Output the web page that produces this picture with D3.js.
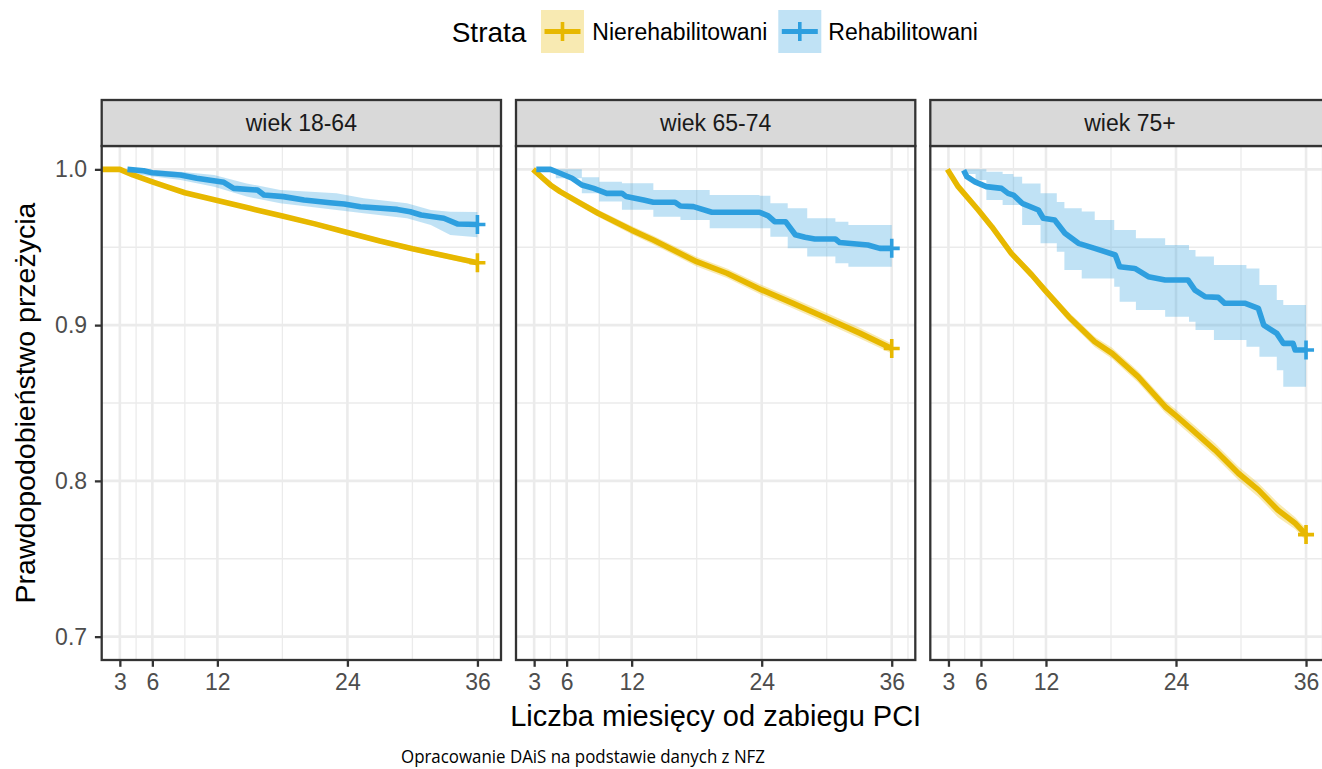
<!DOCTYPE html>
<html><head><meta charset="utf-8">
<script src="https://cdn.jsdelivr.net/npm/d3@7"></script>
<style>
html,body{margin:0;padding:0;background:#fff;overflow:hidden}
svg{display:block;font-family:"Liberation Sans",Arial,Helvetica,sans-serif}
</style>
</head><body>
<svg id="c" width="1322" height="769"></svg>
<script>
// ---------------- DATA ----------------
const panels = ["wiek 18-64", "wiek 65-74", "wiek 75+"];
const strata = ["Nierehabilitowani", "Rehabilitowani"];
const monthTicks = [3, 6, 12, 24, 36];
const monthMinor = [4.5, 9, 18, 30, 37.5];
const survTicks = [0.7, 0.8, 0.9, 1.0];
const survMinor = [0.75, 0.85, 0.95];
const legendTitle = "Strata";
const xTitle = "Liczba miesięcy od zabiegu PCI";
const yTitle = "Prawdopodobieństwo przeżycia";
const caption = "Opracowanie DAiS na podstawie danych z NFZ";

// [month, survival]
const nie1864 = [[0,1],[3,1],[4.2,0.9964],[6,0.992],[7.3,0.9889],[9,0.985],[12,0.980],[15,0.975],[18,0.970],[21,0.965],[24,0.9595],[27,0.954],[30,0.949],[33,0.9445],[36,0.940]];
// [month, lower, upper]
const nie1864CI = [[0,1,1],[3,0.9995,1],[4.2,0.9953,0.9975],[6,0.9908,0.9932],[7.3,0.9876,0.9902],[9,0.9837,0.9863],[12,0.9787,0.9813],[15,0.9736,0.9764],[18,0.9686,0.9714],[21,0.9635,0.9665],[24,0.9580,0.9610],[27,0.9524,0.9556],[30,0.9474,0.9506],[33,0.9428,0.9462],[36,0.9383,0.9417]];

const reh1864 = [[3.7,1.0],[5.2,0.9991],[6.0,0.9978],[8.6,0.9964],[10.1,0.9943],[12.6,0.9917],[13.5,0.9878],[15.7,0.9867],[16.3,0.9835],[18.1,0.9825],[20.0,0.9803],[22.4,0.9786],[23.7,0.9778],[25.2,0.976],[28.6,0.9743],[29.8,0.9728],[30.8,0.9707],[32.9,0.9686],[34.2,0.9649],[36,0.9646]];
const reh1864CI = [[3.7,0.999,1.0],[5,0.9964,1.0],[8.6,0.9932,0.9985],[11.7,0.9889,0.9964],[14.7,0.9825,0.991],[17.8,0.9782,0.9867],[23,0.9739,0.9846],[25.5,0.9718,0.9814],[29.5,0.9686,0.9782],[31.7,0.9643,0.9739],[33.5,0.9579,0.9728],[36,0.9564,0.9727]];

const nie6574 = [[2.9,1.0],[3.8,0.9943],[4.5,0.990],[5.4,0.9857],[7,0.9793],[8.9,0.9718],[12,0.961],[14,0.9546],[18,0.9407],[20.8,0.9333],[24,0.9226],[26.9,0.914],[30,0.9044],[33.1,0.8947],[36,0.885]];
const nie6574CI = [[2.9,0.9995,1.0],[3.8,0.9928,0.9958],[4.5,0.9883,0.9917],[5.4,0.9838,0.9876],[7,0.9772,0.9814],[8.9,0.9695,0.9741],[12,0.9584,0.9636],[14,0.9518,0.9574],[18,0.9377,0.9437],[20.8,0.9302,0.9364],[24,0.9194,0.9258],[26.9,0.9107,0.9173],[30,0.9010,0.9078],[33.1,0.8913,0.8981],[36,0.8818,0.8882]];

const reh6574 = [[3.2,1.0],[4.5,1.0],[5.4,0.9975],[6.5,0.9943],[7.4,0.990],[8.5,0.9878],[9.7,0.9846],[11.1,0.9846],[11.5,0.9825],[13.1,0.9803],[14.0,0.9789],[16.0,0.9789],[16.5,0.9765],[17.7,0.9761],[19.4,0.9725],[23.8,0.9725],[24.6,0.9701],[25.2,0.9664],[26.2,0.9664],[27.1,0.958],[28.0,0.9564],[28.9,0.9553],[30.8,0.9553],[31.2,0.953],[33.8,0.9514],[34.9,0.9493],[36,0.9493]];
const reh6574CI = [[3.2,0.999,1.0],[5,0.9943,1.0],[7.4,0.9846,0.995],[9,0.9793,0.992],[11.1,0.974,0.9911],[14,0.9696,0.9868],[16.5,0.9675,0.9868],[19.2,0.9622,0.9836],[23.8,0.9622,0.983],[24.8,0.9568,0.9782],[26.4,0.9493,0.975],[28.2,0.944,0.9686],[30.8,0.9397,0.9664],[32,0.9375,0.9643],[36,0.9354,0.9636]];

const nie75 = [[2.9,1.0],[3.9,0.9889],[5.75,0.9739],[7.0,0.9632],[8.8,0.9461],[10.7,0.9322],[11.9,0.9225],[14.1,0.9054],[16.5,0.8893],[18.1,0.8819],[20.5,0.8669],[23.0,0.8476],[24.1,0.8412],[25.5,0.8327],[27.6,0.8198],[29.75,0.8049],[31.6,0.7942],[33.4,0.7813],[35.0,0.7728],[36,0.7655]];
const nie75CI = [[2.9,0.9995,1.0],[3.9,0.9875,0.9903],[5.75,0.9722,0.9756],[7.0,0.9612,0.9652],[8.8,0.9438,0.9484],[10.7,0.9297,0.9347],[11.9,0.9198,0.9252],[14.1,0.9024,0.9084],[16.5,0.8860,0.8926],[18.1,0.8784,0.8854],[20.5,0.8632,0.8706],[23.0,0.8437,0.8515],[24.1,0.8372,0.8452],[25.5,0.8286,0.8368],[27.6,0.8155,0.8241],[29.75,0.8005,0.8093],[31.6,0.7897,0.7987],[33.4,0.7767,0.7859],[35.0,0.7689,0.7767],[36,0.7615,0.7695]];

const reh75 = [[4.4,0.9995],[4.7,0.9953],[5.45,0.992],[6.5,0.9889],[7.9,0.9878],[8.5,0.9846],[9.0,0.9835],[9.8,0.9782],[11.3,0.9739],[11.75,0.9686],[12.8,0.9675],[13.75,0.959],[15.0,0.9525],[16.5,0.9493],[18.4,0.945],[18.8,0.9375],[20.2,0.9364],[21.45,0.9311],[23.0,0.929],[25.1,0.929],[25.75,0.9225],[26.7,0.9182],[27.9,0.9178],[28.5,0.914],[30.4,0.914],[31.6,0.9108],[32.1,0.9],[33.3,0.8947],[33.9,0.8883],[34.8,0.8883],[35.0,0.884],[36,0.884]];
const reh75CI = [[4.4,0.997,1.0],[5.5,0.9932,1.0],[6.5,0.9803,0.9985],[8.0,0.9771,0.997],[9.0,0.9771,0.9953],[9.8,0.9643,0.991],[11.5,0.9525,0.9846],[13.0,0.9471,0.979],[13.7,0.9354,0.975],[15.3,0.93,0.9729],[16.5,0.93,0.9675],[18.3,0.9247,0.961],[18.8,0.915,0.961],[20.3,0.9097,0.9557],[23,0.9054,0.9514],[25.2,0.9022,0.9482],[25.8,0.8968,0.944],[27.5,0.8904,0.9386],[30.5,0.8861,0.9364],[31.7,0.8797,0.9257],[33.3,0.8711,0.9161],[33.9,0.8604,0.9129],[36,0.855,0.9129]];

// ---------------- LAYOUT ----------------
const colors = ["#E7B800", "#2E9FDF"];
const panelData = [
  {line:[nie1864, reh1864], ci:[nie1864CI, reh1864CI], step:false},
  {line:[nie6574, reh6574], ci:[nie6574CI, reh6574CI], step:true},
  {line:[nie75, reh75], ci:[nie75CI, reh75CI], step:true}
];
const panelLeft = [101.7, 516, 930.3];
const panelW = 399.3, pTop = 146, pBottom = 660, ph = pBottom - pTop;
const stripTop = 100, stripH = pTop - stripTop;
const dark = "#333333";

const svg = d3.select("#c");
const defs = svg.append("defs");
const x = d3.scaleLinear().domain([1.325, 38.175]).range([0, panelW]);
const y = d3.scaleLinear().domain([0.685, 1.015]).range([ph, 0]);

const lineGen = d3.line().x(d => x(d[0])).y(d => y(d[1]));
const areaGen = d3.area().x(d => x(d[0])).y0(d => y(d[1])).y1(d => y(d[2]));

panelData.forEach((p, i) => {
  const g = svg.append("g").attr("transform", `translate(${panelLeft[i]},${pTop})`);
  const cid = "clip" + i;
  defs.append("clipPath").attr("id", cid).append("rect").attr("width", panelW).attr("height", ph);

  const grid = g.append("g");
  grid.selectAll(".mx").data(monthMinor).join("line")
    .attr("x1", d => x(d)).attr("x2", d => x(d)).attr("y1", 0).attr("y2", ph)
    .attr("stroke", "#EBEBEB").attr("stroke-width", 1.3);
  grid.selectAll(".my").data(survMinor).join("line")
    .attr("y1", d => y(d)).attr("y2", d => y(d)).attr("x1", 0).attr("x2", panelW)
    .attr("stroke", "#EBEBEB").attr("stroke-width", 1.3);
  grid.selectAll(".Mx").data(monthTicks).join("line")
    .attr("x1", d => x(d)).attr("x2", d => x(d)).attr("y1", 0).attr("y2", ph)
    .attr("stroke", "#EBEBEB").attr("stroke-width", 2.6);
  grid.selectAll(".My").data(survTicks).join("line")
    .attr("y1", d => y(d)).attr("y2", d => y(d)).attr("x1", 0).attr("x2", panelW)
    .attr("stroke", "#EBEBEB").attr("stroke-width", 2.6);

  const dg = g.append("g").attr("clip-path", `url(#${cid})`);
  p.ci.forEach((ci, k) => {
    dg.append("path").datum(ci)
      .attr("d", areaGen.curve(k === 1 && p.step ? d3.curveStepAfter : d3.curveLinear))
      .attr("fill", colors[k]).attr("fill-opacity", 0.3);
  });
  p.line.forEach((ln, k) => {
    dg.append("path").datum(ln).attr("d", lineGen)
      .attr("fill", "none").attr("stroke", colors[k]).attr("stroke-width", 5.6)
      .attr("stroke-linejoin", "round");
  });
  p.line.forEach((ln, k) => {
    const last = ln[ln.length - 1];
    dg.append("path")
      .attr("transform", `translate(${x(last[0])},${y(last[1])})`)
      .attr("d", "M-8,0H8M0,-9.5V9.5")
      .attr("stroke", colors[k]).attr("stroke-width", 3.6).attr("fill", "none");
  });

  g.append("rect").attr("width", panelW).attr("height", ph)
    .attr("fill", "none").attr("stroke", dark).attr("stroke-width", 2.3);

  const s = svg.append("g").attr("transform", `translate(${panelLeft[i]},${stripTop})`);
  s.append("rect").attr("width", panelW).attr("height", stripH)
    .attr("fill", "#D9D9D9").attr("stroke", dark).attr("stroke-width", 2.3);
  s.append("text").attr("x", panelW / 2).attr("y", stripH / 2 + 8.2)
    .attr("text-anchor", "middle").attr("font-size", 23).attr("fill", "#1A1A1A")
    .text(panels[i]);

  const ax = svg.append("g").attr("transform", `translate(${panelLeft[i]},${pBottom})`)
    .call(d3.axisBottom(x).tickValues(monthTicks).tickSize(6.8).tickPadding(7.2).tickFormat(d3.format("d")));
  ax.select(".domain").remove();
  ax.selectAll(".tick line").attr("stroke", dark).attr("stroke-width", 2.3);
  ax.selectAll(".tick text").attr("font-size", 23).attr("fill", "#4D4D4D")
    .attr("font-family", '"Liberation Sans",Arial,sans-serif');

  if (i === 0) {
    const ay = svg.append("g").attr("transform", `translate(${panelLeft[i]},${pTop})`)
      .call(d3.axisLeft(y).tickValues(survTicks).tickSize(6.8).tickPadding(7.8).tickFormat(d3.format(".1f")));
    ay.select(".domain").remove();
    ay.selectAll(".tick line").attr("stroke", dark).attr("stroke-width", 2.3);
    ay.selectAll(".tick text").attr("font-size", 23).attr("fill", "#4D4D4D")
      .attr("font-family", '"Liberation Sans",Arial,sans-serif');
  }
});

svg.append("text").attr("x", (panelLeft[0] + panelLeft[2] + panelW) / 2).attr("y", 726)
  .attr("text-anchor", "middle").attr("font-size", 29).attr("fill", "#000").text(xTitle);
svg.append("text").attr("transform", `translate(35,${pTop + ph / 2}) rotate(-90)`)
  .attr("text-anchor", "middle").attr("font-size", 28.5).attr("fill", "#000").text(yTitle);

const lg = svg.append("g");
lg.append("text").attr("x", 451.7).attr("y", 41.5).attr("font-size", 28).text(legendTitle);
const keyX = [541, 778.3], labX = [592.3, 828.3];
strata.forEach((st, k) => {
  const kx = keyX[k], ky = 10, ks = 43, cy = ky + ks / 2;
  lg.append("rect").attr("x", kx).attr("y", ky).attr("width", ks).attr("height", ks)
    .attr("fill", colors[k]).attr("fill-opacity", 0.3);
  lg.append("line").attr("x1", kx + 3.5).attr("x2", kx + ks - 3.5).attr("y1", cy).attr("y2", cy)
    .attr("stroke", colors[k]).attr("stroke-width", 5.2);
  lg.append("line").attr("x1", kx + ks / 2).attr("x2", kx + ks / 2).attr("y1", cy - 9.5).attr("y2", cy + 9.5)
    .attr("stroke", colors[k]).attr("stroke-width", 3.6);
  lg.append("text").attr("x", labX[k]).attr("y", cy + 8.2).attr("font-size", 23).text(st);
});

svg.append("text").attr("x", 401).attr("y", 763)
  .attr("font-family", "'Open Sans', Lato, sans-serif").attr("font-size", 19).attr("fill", "#000")
  .attr("textLength", 364).attr("lengthAdjust", "spacingAndGlyphs").text(caption);
</script>
</body></html>
